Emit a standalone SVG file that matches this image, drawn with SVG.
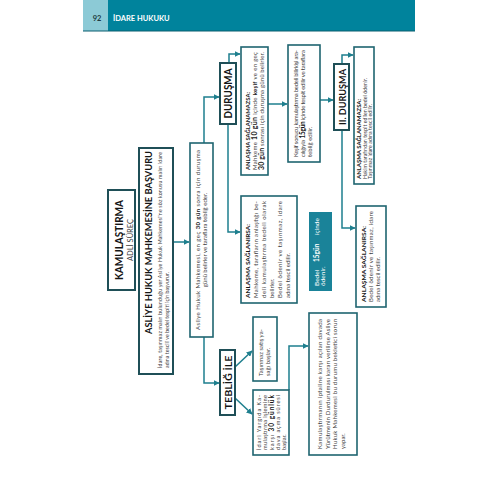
<svg xmlns="http://www.w3.org/2000/svg" width="500" height="500" viewBox="0 0 500 500" font-size="6">
<style>
.box{fill:#fff;stroke:#1f6470;stroke-width:1.6}
.box2{fill:#fff;stroke:#1f4f57;stroke-width:2}
.t{font-family:Lato,"Open Sans","DejaVu Sans",sans-serif;fill:#3c3c3c}
.b{font-weight:700;fill:#151515}
.w{fill:#fff}
.hd{font-family:Lato,"Open Sans",sans-serif;font-weight:700}
.conn path{fill:none;stroke:#1e7f8e;stroke-width:1.5;marker-end:url(#ah)}
</style>
<defs>
<marker id="ah" viewBox="0 0 10 10" refX="9" refY="5" markerWidth="6" markerHeight="6" markerUnits="userSpaceOnUse" orient="auto">
<path d="M0,0 L10,5 L0,10 z" fill="#1e7f8e"/>
</marker>
</defs>
<rect width="500" height="500" fill="#fff"/>
<g id="header">
<rect x="83" y="0" width="332" height="31" fill="#00839c"/>
<rect x="83" y="0" width="25" height="31" fill="#8ccad6"/>
<line x1="83" y1="31" x2="415" y2="31" stroke="#0a5f70" stroke-width="1"/>
<text x="97" y="21" text-anchor="middle" class="hd" font-size="7.5" fill="#1d3a40">92</text>
<text x="113" y="21" class="hd" font-size="7.5" fill="#fff">İDARE HUKUKU</text>
</g>
<g class="conn" id="connectors">
<path d="M173,242 H189"/>
<path d="M204,143 V97 H219"/>
<path d="M229,63 V54 H240"/>
<path d="M228,124 V232 H240"/>
<path d="M268,104 H287"/>
<path d="M320,100 H333"/>
<path d="M342,64 V55 H353"/>
<path d="M342,130 V228 H355"/>
<path d="M204,337 V383 H219"/>
<path d="M235,367 L252,351"/>
<path d="M235,398 L252,414"/>
<path d="M289,390 V346 H308"/>
</g>
<g id="n-kamulastirma" transform="translate(108,290) rotate(-90)">
<rect class="box2" x="0" y="0" width="100" height="27"/>
<text class="t b" x="50" y="15" text-anchor="middle" font-size="10.5" textLength="80" lengthAdjust="spacingAndGlyphs">KAMULAŞTIRMA</text>
<text class="t" x="50" y="24.5" text-anchor="middle" font-size="7.5" textLength="42" lengthAdjust="spacingAndGlyphs">ADLİ SÜREÇ</text>
</g>
<g id="n-asliye" transform="translate(139,374) rotate(-90)">
<rect class="box2" x="0" y="0" width="226" height="34"/>
<text class="t b" x="40" y="13" font-size="10" textLength="183" lengthAdjust="spacingAndGlyphs">ASLİYE HUKUK MAHKEMESİNE BAŞVURU</text>
<text class="t" x="6" y="23" font-size="5.3" textLength="216">İdare, taşınmaz malın bulunduğu yer Asliye Hukuk Mahkemesi'ne söz konusu malın idare</text>
<text class="t" x="6" y="29.5" font-size="5.3">adına tescili ve bedel tespiti için başvurur.</text>
</g>
<g id="n-mahkeme" transform="translate(190,337) rotate(-90)">
<rect class="box" x="0" y="0" width="194" height="23"/>
<text class="t" x="97" y="10" text-anchor="middle" textLength="180">Asliye Hukuk Mahkemesi, en geç <tspan class="b">30 gün</tspan> sonra için duruşma</text>
<text class="t" x="97" y="16.5" text-anchor="middle">günü belirler ve taraflara tebliğ eder.</text>
</g>
<g id="n-durusma" transform="translate(220,124) rotate(-90)">
<rect class="box2" x="0" y="0" width="61" height="16"/>
<text class="t b" x="30.5" y="12" text-anchor="middle" font-size="10.5" textLength="50" lengthAdjust="spacingAndGlyphs">DURUŞMA</text>
</g>
<g id="n-anlasamaz1" transform="translate(241,175) rotate(-90)">
<rect class="box" x="0" y="0" width="128" height="27"/>
<text class="t b" x="5" y="8.5" font-size="6.3" textLength="78" lengthAdjust="spacingAndGlyphs">ANLAŞMA SAĞLANAMAZSA:</text>
<text class="t" x="5" y="16" textLength="118">Mahkeme <tspan class="b" font-size="7">10 gün</tspan> içinde <tspan class="b">keşif</tspan> ve en geç</text>
<text class="t" x="5" y="23" textLength="118"><tspan class="b" font-size="7">30 gün</tspan> sonrası için duruşma günü belirler.</text>
</g>
<g id="n-kesif" transform="translate(288,162) rotate(-90)">
<rect class="box" x="0" y="0" width="117" height="32"/>
<text class="t" x="5" y="10" textLength="107">Keşif sonucu kamulaştırma bedeli bilirkişi ara-</text>
<text class="t" x="5" y="17" textLength="107">cılığıyla <tspan class="b" font-size="6.5">15gün</tspan> içinde tespit edilir ve taraflara</text>
<text class="t" x="5" y="24">tebliğ edilir.</text>
</g>
<g id="n-durusma2" transform="translate(334,130) rotate(-90)">
<rect class="box2" x="0" y="0" width="66" height="15"/>
<text class="t b" x="33" y="11.5" text-anchor="middle" font-size="10" textLength="56" lengthAdjust="spacingAndGlyphs">II. DURUŞMA</text>
</g>
<g id="n-anlasamaz2" transform="translate(354,184) rotate(-90)">
<rect class="box" x="0" y="0" width="137" height="20"/>
<text class="t b" x="5" y="7" font-size="6" textLength="80" lengthAdjust="spacingAndGlyphs">ANLAŞMA SAĞLANAMAZSA:</text>
<text class="t" x="5" y="12.5" font-size="5.3">Hakim tarafından tespit edilen bedel ödenir.</text>
<text class="t" x="5" y="18" font-size="5.3">Taşınmaz idare adına tescil edilir.</text>
</g>
<g id="n-anlasirsa1" transform="translate(241,303) rotate(-90)">
<rect class="box" x="0" y="0" width="107" height="56"/>
<text class="t b" x="5" y="9" font-size="6.3" textLength="74" lengthAdjust="spacingAndGlyphs">ANLAŞMA SAĞLANIRSA:</text>
<text class="t" x="5" y="17" textLength="97">Mahkeme, tarafların anlaştığı be-</text>
<text class="t" x="5" y="25" textLength="97">deli kamulaştırma bedeli olarak</text>
<text class="t" x="5" y="33">belirler.</text>
<text class="t" x="5" y="41" textLength="97">Bedel ödenir ve taşınmaz, idare</text>
<text class="t" x="5" y="49">adına tescil edilir.</text>
</g>
<g id="n-bedel15" transform="translate(309,291) rotate(-90)">
<rect x="0" y="0" width="79" height="23" fill="#1a8399"/>
<text class="t w" x="5" y="9.5" font-size="6.5">Bedel</text>
<text class="t w" x="29" y="9.5" font-size="6.5" font-weight="700">15gün</text>
<text class="t w" x="56" y="9.5" font-size="6.5">içinde</text>
<text class="t w" x="5" y="16" font-size="6.5">ödenir.</text>
</g>
<g id="n-anlasirsa2" transform="translate(356,307) rotate(-90)">
<rect class="box" x="0" y="0" width="101" height="30"/>
<text class="t b" x="5" y="10" font-size="6.3" textLength="76" lengthAdjust="spacingAndGlyphs">ANLAŞMA SAĞLANIRSA:</text>
<text class="t" x="5" y="17" textLength="91">Bedel ödenir ve taşınmaz, idare</text>
<text class="t" x="5" y="24">adına tescil edilir.</text>
</g>
<g id="n-teblig" transform="translate(220,415) rotate(-90)">
<rect class="box2" x="0" y="0" width="65" height="15"/>
<text class="t b" x="32.5" y="11.5" text-anchor="middle" font-size="10" textLength="54" lengthAdjust="spacingAndGlyphs">TEBLİĞ İLE</text>
</g>
<g id="n-satis" transform="translate(253,381) rotate(-90)">
<rect class="box" x="0" y="0" width="64" height="24"/>
<text class="t" x="5" y="10">Taşınmaz satış ya-</text>
<text class="t" x="5" y="17">sağı başlar.</text>
</g>
<g id="n-idari" transform="translate(253,455) rotate(-90)">
<rect class="box" x="0" y="0" width="65" height="36"/>
<text class="t" x="5" y="8" font-size="5.6" textLength="55">İdari Yargıda Ka-</text>
<text class="t" x="5" y="14.2" font-size="5.6" textLength="55">mulaştırma işlemine</text>
<text class="t" x="5" y="20.6" font-size="5.6" textLength="55">karşı <tspan class="b" font-size="6.5">30 günlük</tspan></text>
<text class="t" x="5" y="26.8" font-size="5.6" textLength="55">dava açma süresi</text>
<text class="t" x="5" y="33" font-size="5.6">başlar.</text>
</g>
<g id="n-iptal" transform="translate(309,455) rotate(-90)">
<rect class="box" x="0" y="0" width="142" height="48"/>
<text class="t" x="6" y="13" textLength="130">Kamulaştırmanın iptaline karşı açılan davada</text>
<text class="t" x="6" y="20.5" textLength="130">Yürütmenin Durdurulması kararı verilirse Asliye</text>
<text class="t" x="6" y="28" textLength="130">Hukuk Mahkemesi bu durumu bekletici sorun</text>
<text class="t" x="6" y="35.5">yapar.</text>
</g>
</svg>
